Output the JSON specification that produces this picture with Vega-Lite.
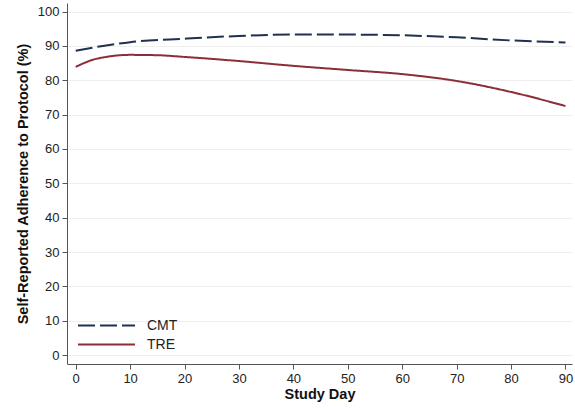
{
  "$schema": "https://vega.github.io/schema/vega-lite/v6.json",
  "autosize": {"type": "none"},
  "width": 505,
  "height": 361,
  "padding": {"left": 67, "top": 3, "right": 3, "bottom": 44},
  "background": "white",
  "config": {
    "font": "Liberation Sans",
    "view": {"stroke": null},
    "axis": {"labelFont": "Liberation Sans", "titleFont": "Liberation Sans", "labelColor": "#222", "titleColor": "#111", "domainColor": "#555", "tickColor": "#555", "labelFontSize": 13, "titleFontSize": 14.5, "titleFontWeight": "bold"}
  },
  "data": {"values": [
    {"day": 0, "v": 88.6, "g": "CMT"},
    {"day": 5, "v": 90.0, "g": "CMT"},
    {"day": 10, "v": 91.1, "g": "CMT"},
    {"day": 20, "v": 92.1, "g": "CMT"},
    {"day": 30, "v": 92.9, "g": "CMT"},
    {"day": 40, "v": 93.3, "g": "CMT"},
    {"day": 50, "v": 93.3, "g": "CMT"},
    {"day": 60, "v": 93.1, "g": "CMT"},
    {"day": 70, "v": 92.5, "g": "CMT"},
    {"day": 80, "v": 91.6, "g": "CMT"},
    {"day": 90, "v": 91.0, "g": "CMT"},
    {"day": 0, "v": 83.9, "g": "TRE"},
    {"day": 3, "v": 85.9, "g": "TRE"},
    {"day": 6, "v": 86.9, "g": "TRE"},
    {"day": 10, "v": 87.4, "g": "TRE"},
    {"day": 15, "v": 87.3, "g": "TRE"},
    {"day": 20, "v": 86.8, "g": "TRE"},
    {"day": 30, "v": 85.6, "g": "TRE"},
    {"day": 40, "v": 84.2, "g": "TRE"},
    {"day": 50, "v": 83.0, "g": "TRE"},
    {"day": 60, "v": 81.8, "g": "TRE"},
    {"day": 70, "v": 79.8, "g": "TRE"},
    {"day": 80, "v": 76.6, "g": "TRE"},
    {"day": 90, "v": 72.5, "g": "TRE"}
  ]},
  "mark": {"type": "line", "strokeWidth": 2, "interpolate": "monotone"},
  "encoding": {
    "x": {"field": "day", "type": "quantitative", "title": "Study Day",
      "scale": {"domain": [-1.6, 91.2], "nice": false, "zero": false},
      "axis": {"values": [0,10,20,30,40,50,60,70,80,90], "grid": false, "tickSize": 5, "labelPadding": 3, "titlePadding": 2}},
    "y": {"field": "v", "type": "quantitative", "title": "Self-Reported Adherence to Protocol (%)",
      "scale": {"domain": [-2.6, 102.5], "nice": false, "zero": false},
      "axis": {"values": [0,10,20,30,40,50,60,70,80,90,100], "grid": true, "gridColor": "#eeeeee", "tickSize": 5, "labelPadding": 3, "titlePadding": 7}},
    "color": {"field": "g", "type": "nominal", "title": null,
      "scale": {"domain": ["CMT", "TRE"], "range": ["#1f3050", "#8b2e36"]},
      "legend": {"orient": "none", "legendX": 29, "legendY": 312, "symbolType": "M-3,0H3", "symbolSize": 361, "symbolStrokeWidth": 2, "labelFontSize": 14, "labelColor": "#222", "rowPadding": 1, "labelOffset": 30}},
    "strokeDash": {"field": "g", "type": "nominal",
      "scale": {"domain": ["CMT", "TRE"], "range": [[17, 5], [1, 0]]},
      "legend": null}
  }
}
